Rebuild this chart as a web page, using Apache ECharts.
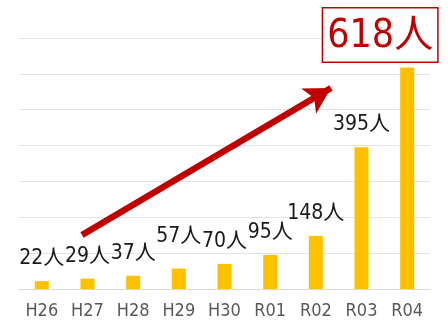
<!DOCTYPE html>
<html>
<head>
<meta charset="utf-8">
<script src="https://cdn.jsdelivr.net/npm/echarts@6/dist/echarts.min.js"></script>
<style>
  html, body { margin: 0; padding: 0; background: #fff; }
  #chart { width: 448px; height: 320px; }
</style>
</head>
<body>
<div id="chart"></div>
<script>
// Fiscal years (Heisei / Reiwa era) and head counts
const years = ['H26', 'H27', 'H28', 'H29', 'H30', 'R01', 'R02', 'R03', 'R04'];
const counts = [22, 29, 37, 57, 70, 95, 148, 395, 618];
const unit = '人';

const LABEL_FONT = "'Liberation Sans Narrow', 'DejaVu Sans Condensed', 'Noto Sans CJK JP', sans-serif";
const RED = '#c00000';

const chart = echarts.init(document.getElementById('chart'), null, { renderer: 'canvas' });

const data = counts.map((v, i) => {
  const item = { value: v };
  if (i === counts.length - 1) {
    // latest year gets a boxed red callout
    item.label = {
      show: true,
      position: 'top',
      distance: 6,
      offset: [-27, 0],
      fontSize: 39,
      color: RED,
      backgroundColor: '#fff',
      borderColor: RED,
      borderWidth: 1.5,
      padding: [5, 4, 2, 4],
      lineHeight: 46
    };
  } else if (v === 57) {
    item.label = { distance: 22 };
  }
  return item;
});

chart.setOption({
  animation: false,
  grid: { left: 19, right: 18, top: 38, bottom: 30 },
  xAxis: {
    type: 'category',
    data: years,
    axisLine: { lineStyle: { color: '#d9d9d9', width: 1 } },
    axisTick: { show: false },
    axisLabel: {
      color: '#595959',
      fontSize: 18,
      fontFamily: LABEL_FONT,
      margin: 13
    }
  },
  yAxis: {
    type: 'value',
    min: 0,
    max: 700,
    interval: 100,
    axisLabel: { show: false },
    axisLine: { show: false },
    axisTick: { show: false },
    splitLine: { lineStyle: { color: '#e3e3e3', width: 1 } }
  },
  series: [{
    type: 'bar',
    data: data,
    barWidth: 14,
    itemStyle: { color: '#ffc000' },
    label: {
      show: true,
      position: 'top',
      distance: 12,
      formatter: p => p.value + unit,
      fontSize: 21,
      color: '#1a1a1a',
      fontFamily: LABEL_FONT
    },
    markLine: {
      silent: true,
      symbol: ['none', 'arrow'],
      symbolSize: [22, 26],
      label: { show: false },
      lineStyle: { color: RED, width: 6.5, type: 'solid' },
      data: [[{ x: 82, y: 235 }, { x: 331, y: 88 }]]
    }
  }]
});
</script>
</body>
</html>
